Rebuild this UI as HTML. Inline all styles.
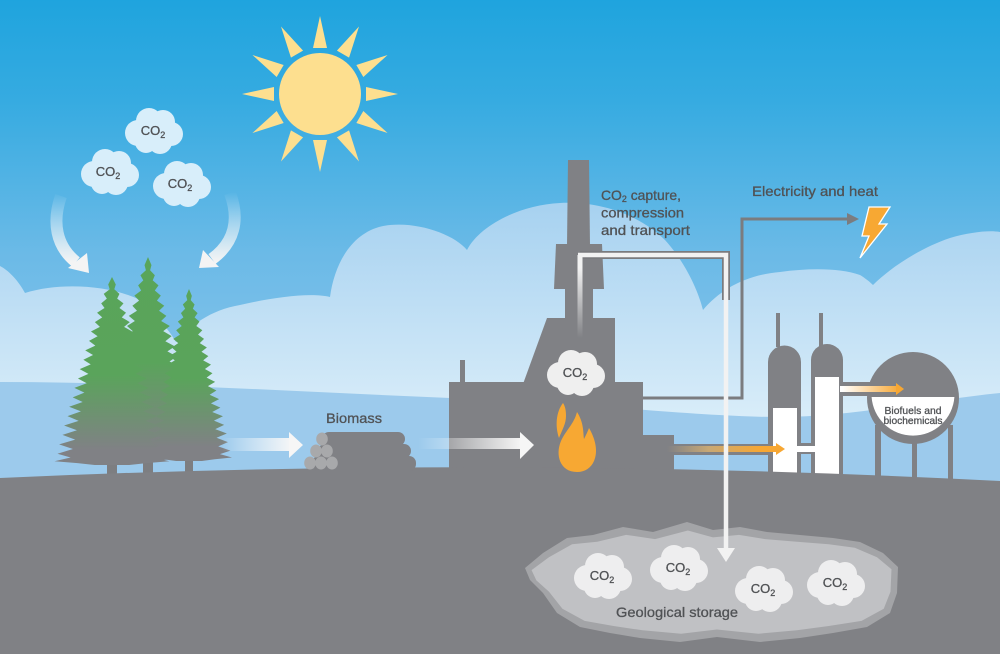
<!DOCTYPE html>
<html><head><meta charset="utf-8"><style>
html,body{margin:0;padding:0;background:#fff}
svg{display:block}
text{font-family:"Liberation Sans",sans-serif;fill:#505255;stroke:#505255;stroke-width:0.3}
</style></head><body>
<svg width="1000" height="654" viewBox="0 0 1000 654" xmlns="http://www.w3.org/2000/svg">
<defs>
<linearGradient id="sky" gradientUnits="userSpaceOnUse" x1="0" y1="0" x2="0" y2="460">
<stop offset="0" stop-color="#1fa4de"/><stop offset="0.22" stop-color="#36abe1"/><stop offset="0.55" stop-color="#6bbae7"/><stop offset="1" stop-color="#92c7eb"/></linearGradient>
<linearGradient id="cloudG" gradientUnits="userSpaceOnUse" x1="0" y1="200" x2="0" y2="420">
<stop offset="0" stop-color="#a6d1f0"/><stop offset="1" stop-color="#d9edf9"/></linearGradient>
<linearGradient id="treeG" x1="0" y1="0" x2="0" y2="1">
<stop offset="0" stop-color="#59a55a"/><stop offset="0.52" stop-color="#5aa45b"/><stop offset="0.92" stop-color="#808185"/><stop offset="1" stop-color="#808185"/></linearGradient>
<linearGradient id="aw1" gradientUnits="userSpaceOnUse" x1="222" y1="0" x2="292" y2="0">
<stop offset="0" stop-color="#fff" stop-opacity="0"/><stop offset="1" stop-color="#f6f6f6"/></linearGradient>
<linearGradient id="aw2" gradientUnits="userSpaceOnUse" x1="418" y1="0" x2="522" y2="0">
<stop offset="0" stop-color="#fff" stop-opacity="0"/><stop offset="1" stop-color="#f6f6f6"/></linearGradient>
<linearGradient id="cv" gradientUnits="userSpaceOnUse" x1="0" y1="192" x2="0" y2="262">
<stop offset="0" stop-color="#fff" stop-opacity="0"/><stop offset="1" stop-color="#f4f4f4"/></linearGradient>
<linearGradient id="pf" gradientUnits="userSpaceOnUse" x1="0" y1="268" x2="0" y2="338">
<stop offset="0" stop-color="#f2f2f2"/><stop offset="1" stop-color="#f2f2f2" stop-opacity="0"/></linearGradient>
<linearGradient id="or1" gradientUnits="userSpaceOnUse" x1="667" y1="0" x2="760" y2="0">
<stop offset="0" stop-color="#808185"/><stop offset="0.45" stop-color="#c8a875"/><stop offset="1" stop-color="#f7a733"/></linearGradient>
<linearGradient id="or2" gradientUnits="userSpaceOnUse" x1="842" y1="0" x2="900" y2="0">
<stop offset="0" stop-color="#ffffff"/><stop offset="1" stop-color="#f7a733"/></linearGradient>
<g id="cl">
<circle cx="-15" cy="3" r="13"/><circle cx="-4" cy="-9" r="13"/><circle cx="10" cy="-8" r="12"/><circle cx="18" cy="4" r="12"/><circle cx="7" cy="12" r="12"/><circle cx="-7" cy="12" r="11"/><circle cx="0" cy="2" r="15"/>
</g>
<path id="tree" d="M0,0 L3.3,4 L2,6.5 L6.5,9 L4.5,11.5 L10,14 L6.5,16.5 L12.2,19 L8.5,21.5 L15.5,24 L10.5,26.5 L17.5,29 L12.5,31.5 L20.8,34 L14.5,36.5 L22.5,39 L16.5,41.5 L25.6,44 L18.5,46.5 L27.3,49 L20.5,51.5 L30.4,54 L22,56.5 L31.9,59 L24,61.5 L35,64 L25.5,66.5 L36.5,69 L27,71.5 L39.5,74 L29,76.5 L40.9,79 L30.5,81.5 L44,84 L32,86.5 L45.3,89 L34,91.5 L48.2,94 L36,96 L50,98 L30,99 L15,100 L-15,100 L-30,99 L-50,98 L-36,96 L-47.4,94 L-34,91.5 L-46,89 L-32,86.5 L-43.1,84 L-30.5,81.5 L-41.7,79 L-29,76.5 L-38.7,74 L-27,71.5 L-37.3,69 L-25.5,66.5 L-34.2,64 L-24,61.5 L-32.7,59 L-22,56.5 L-29.6,54 L-20.5,51.5 L-28.1,49 L-18.5,46.5 L-24.9,44 L-16.5,41.5 L-23.3,39 L-14.5,36.5 L-20,34 L-12.5,31.5 L-18.3,29 L-10.5,26.5 L-14.9,24 L-8.5,21.5 L-13,19 L-6.5,16.5 L-9.4,14 L-4.5,11.5 L-7.2,9 L-2,6.5 L-3.3,4 Z"/>
<polygon id="ray" points="313,48 327,48 320,16"/>
</defs>

<!-- sky -->
<rect width="1000" height="654" fill="url(#sky)"/>

<!-- sun -->
<g fill="#fddf8f">
<circle cx="320" cy="94" r="41"/>
<use href="#ray"/>
<use href="#ray" transform="rotate(30 320 94)"/>
<use href="#ray" transform="rotate(60 320 94)"/>
<use href="#ray" transform="rotate(90 320 94)"/>
<use href="#ray" transform="rotate(120 320 94)"/>
<use href="#ray" transform="rotate(150 320 94)"/>
<use href="#ray" transform="rotate(180 320 94)"/>
<use href="#ray" transform="rotate(210 320 94)"/>
<use href="#ray" transform="rotate(240 320 94)"/>
<use href="#ray" transform="rotate(270 320 94)"/>
<use href="#ray" transform="rotate(300 320 94)"/>
<use href="#ray" transform="rotate(330 320 94)"/>
</g>

<!-- background clouds -->
<path fill="url(#cloudG)" d="M0,266 C8,270 18,280 25,293 C60,282 110,285 140,300 C160,318 172,335 176,342 C190,326 210,310 240,305 C270,298 310,292 330,297 C335,260 355,228 390,225 C420,222 455,235 467,250 C480,225 520,205 560,203 C600,201 640,215 665,240 C685,262 698,290 703,310 C720,290 745,275 780,272 C810,268 840,268 860,275 C865,278 870,282 873,285 C890,268 920,248 950,238 C970,232 990,230 1000,232 L1000,440 L0,440 Z"/>

<!-- horizon band -->
<path fill="#9ccaec" d="M0,382 C150,382 300,392 450,398 C600,404 700,417 780,417 C850,417 930,400 1000,393 L1000,500 L0,500 Z"/>

<!-- sky CO2 clouds -->
<g fill="#d8eefa">
<use href="#cl" x="153" y="130"/>
<use href="#cl" x="109" y="171"/>
<use href="#cl" x="181" y="183"/>
</g>
<text x="153" y="135" text-anchor="middle" font-size="13">CO<tspan font-size="9" dy="3">2</tspan></text>
<text x="108" y="176" text-anchor="middle" font-size="13">CO<tspan font-size="9" dy="3">2</tspan></text>
<text x="180" y="188" text-anchor="middle" font-size="13">CO<tspan font-size="9" dy="3">2</tspan></text>

<!-- curved arrows -->
<path d="M61,196 C52,222 56,246 76,262" fill="none" stroke="url(#cv)" stroke-width="12"/>
<polygon points="68,268 89,273 87,253" fill="#f4f4f4"/>
<path d="M230,193 C240,220 234,243 212,259" fill="none" stroke="url(#cv)" stroke-width="12"/>
<polygon points="199,268 219,267 203,250" fill="#f4f4f4"/>

<!-- electricity line -->
<polyline points="640,398 742,398 742,219 850,219" fill="none" stroke="#7b7c7f" stroke-width="3"/>
<polygon points="847,213 859,219 847,225" fill="#7b7c7f"/>
<polygon points="869,207 890,207 879,224 887,224 860,258 869,236 862,236" fill="#f7a833" stroke="#fff" stroke-width="1.3" stroke-linejoin="miter"/>

<!-- factory -->
<g fill="#808185">
<polygon points="568,160 589,160 590,246 567,246"/>
<polygon points="556,244 602,244 604,289 554,289"/>
<rect x="565" y="288" width="28" height="31"/>
<polygon points="547,318 615,318 615,384 523,384"/>
<rect x="449" y="382" width="194" height="100"/>
<rect x="642" y="435" width="32" height="47"/>
<rect x="460" y="360" width="5" height="24"/>
</g>

<!-- pipe gray outline -->
<polyline points="580,255 726,255 726,300" fill="none" stroke="#7a7b7e" stroke-width="8"/>

<!-- refinery -->
<g fill="#808185">
<rect x="776" y="313" width="4" height="34"/>
<rect x="819" y="313" width="4" height="34"/>
<path d="M768,480 L768,362 A16.5,16.5 0 0 1 801,362 L801,480 Z"/>
<path d="M811,480 L811,360 A16,16 0 0 1 843,360 L843,480 Z"/>
<rect x="797" y="443" width="18" height="11"/>
<rect x="843" y="382" width="30" height="14"/>
<rect x="875" y="425" width="6" height="56"/>
<rect x="912" y="425" width="5" height="56"/>
<rect x="948" y="425" width="5" height="56"/>
<circle cx="913" cy="398" r="46"/>
</g>
<g fill="#ffffff">
<rect x="773" y="408" width="24" height="72"/>
<rect x="815" y="377" width="24" height="103"/>
<rect x="796" y="446" width="20" height="6"/>
<path d="M871.6,397 L954.4,397 A41.5,41.5 0 0 1 871.6,397 Z"/>
</g>
<!-- orange arrows -->
<rect x="674" y="444" width="96" height="11" fill="#808185"/>
<rect x="667" y="446" width="111" height="6" fill="url(#or1)"/>
<polygon points="776,443 785,449 776,455" fill="#f7a733"/>
<rect x="840" y="386" width="58" height="6" fill="url(#or2)"/>
<polygon points="896,383 904,389 896,395" fill="#f7a733"/>
<text x="913" y="414" text-anchor="middle" font-size="10.5" textLength="57" lengthAdjust="spacingAndGlyphs" stroke-width="0.2">Biofuels and</text>
<text x="913" y="424" text-anchor="middle" font-size="10.5" textLength="59" lengthAdjust="spacingAndGlyphs" stroke-width="0.2">biochemicals</text>

<!-- trees -->
<g fill="#7d7e81">
<rect x="107" y="450" width="10" height="30"/>
<rect x="143" y="450" width="10" height="30"/>
<rect x="185" y="450" width="8" height="30"/>
</g>
<use href="#tree" fill="url(#treeG)" transform="translate(148,257) scale(1.05,2.03)"/>
<use href="#tree" fill="url(#treeG)" transform="translate(112,277) scale(1.15,1.88)"/>
<use href="#tree" fill="url(#treeG)" transform="translate(189,289) scale(0.86,1.72)"/>

<!-- ground -->
<path fill="#808185" d="M0,478 Q500,455 1000,481 L1000,654 L0,654 Z"/>

<!-- storage -->
<path fill="#a3a4a7" d="M525,568 L543,553 L567,538 L593,535 L623,527 L653,532 L687,522 L713,530 L740,527 L767,532 L800,535 L833,538 L860,542 L883,553 L898,567 L897,593 L890,613 L867,627 L833,633 L800,638 L760,642 L717,637 L680,642 L640,638 L610,633 L580,627 L557,613 L543,593 L530,580 Z"/>
<path fill="#c0c1c4" transform="translate(712,583) scale(0.965,0.86) translate(-712,-583)" d="M525,568 L543,553 L567,538 L593,535 L623,527 L653,532 L687,522 L713,530 L740,527 L767,532 L800,535 L833,538 L860,542 L883,553 L898,567 L897,593 L890,613 L867,627 L833,633 L800,638 L760,642 L717,637 L680,642 L640,638 L610,633 L580,627 L557,613 L543,593 L530,580 Z"/>
<g fill="#eeeeef">
<use href="#cl" x="602" y="575"/>
<use href="#cl" x="678" y="567"/>
<use href="#cl" x="763" y="588"/>
<use href="#cl" x="835" y="582"/>
</g>
<text x="602" y="580" text-anchor="middle" font-size="13">CO<tspan font-size="9" dy="3">2</tspan></text>
<text x="678" y="572" text-anchor="middle" font-size="13">CO<tspan font-size="9" dy="3">2</tspan></text>
<text x="763" y="593" text-anchor="middle" font-size="13">CO<tspan font-size="9" dy="3">2</tspan></text>
<text x="835" y="587" text-anchor="middle" font-size="13">CO<tspan font-size="9" dy="3">2</tspan></text>
<text x="677" y="617" text-anchor="middle" font-size="14" textLength="122" lengthAdjust="spacingAndGlyphs">Geological storage</text>

<!-- pipe white -->
<line x1="580" y1="255" x2="580" y2="338" stroke="url(#pf)" stroke-width="5"/>
<polyline points="578,255 726,255 726,550" fill="none" stroke="#f2f2f2" stroke-width="4.5"/>
<polygon points="717,548 735,548 726,562" fill="#f2f2f2"/>

<!-- white arrows -->
<rect x="222" y="438" width="69" height="13" fill="url(#aw1)"/>
<polygon points="289,432 303,445 289,458" fill="#f6f6f6"/>
<rect x="418" y="438" width="104" height="11" fill="url(#aw2)"/>
<polygon points="520,432 534,445 520,459" fill="#f6f6f6"/>

<!-- logs -->
<g fill="#808185">
<rect x="322" y="432" width="83" height="14" rx="7"/>
<rect x="318" y="444" width="93" height="14" rx="7"/>
<rect x="312" y="456" width="104" height="15" rx="7"/>
</g>
<g fill="#a8a9ab">
<ellipse cx="322" cy="439" rx="5.8" ry="6.5"/>
<ellipse cx="316" cy="451" rx="5.8" ry="6.5"/>
<ellipse cx="327" cy="451" rx="5.8" ry="6.5"/>
<ellipse cx="310" cy="463" rx="5.8" ry="6.5"/>
<ellipse cx="321" cy="463" rx="5.8" ry="6.5"/>
<ellipse cx="332" cy="463" rx="5.8" ry="6.5"/>
</g>
<text x="354" y="423" text-anchor="middle" font-size="14" textLength="56" lengthAdjust="spacingAndGlyphs">Biomass</text>

<!-- flame -->
<g fill="#f7a833">
<path d="M577,472 C560,472 555,455 561,441 C566,430 574,424 577,412 C584,423 583,432 584,439 C586,435 588,431 589,428 C596,440 598,452 594,461 C591,468 585,472 577,472 Z"/>
<path d="M563,403 C556,412 555,426 559,438 C562,430 566,424 566,416 C566,410 565,406 563,403 Z"/>
</g>

<!-- factory CO2 cloud -->
<use href="#cl" x="575" y="372" fill="#efefef"/>
<text x="575" y="377" text-anchor="middle" font-size="13">CO<tspan font-size="9" dy="3">2</tspan></text>

<!-- labels -->
<text x="601" y="200" font-size="14" textLength="80" lengthAdjust="spacingAndGlyphs">CO<tspan font-size="9" dy="2">2</tspan><tspan dy="-2"> capture,</tspan></text>
<text x="601" y="217.5" font-size="14" textLength="83" lengthAdjust="spacingAndGlyphs">compression</text>
<text x="601" y="235" font-size="14" textLength="89" lengthAdjust="spacingAndGlyphs">and transport</text>
<text x="752" y="196" font-size="14" textLength="126" lengthAdjust="spacingAndGlyphs">Electricity and heat</text>
</svg>
</body></html>
